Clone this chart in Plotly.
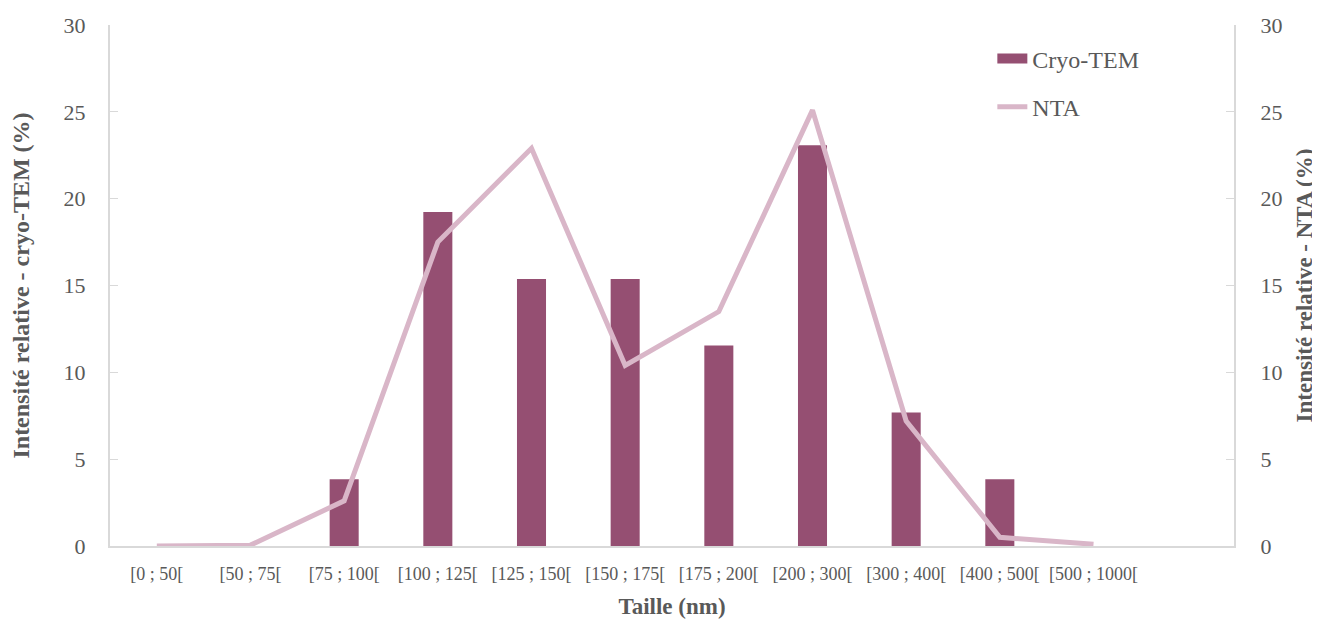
import plotly.graph_objects as go

categories = ["[0 ; 50[", "[50 ; 75[", "[75 ; 100[", "[100 ; 125[", "[125 ; 150[",
              "[150 ; 175[", "[175 ; 200[", "[200 ; 300[", "[300 ; 400[",
              "[400 ; 500[", "[500 ; 1000["]
cryo_tem = [0, 0, 3.85, 19.23, 15.38, 15.38, 11.54, 23.08, 7.69, 3.85, 0]
nta = [0.0, 0.05, 2.6, 17.5, 22.9, 10.4, 13.5, 25.1, 7.2, 0.5, 0.1]
y_ticks = [0, 5, 10, 15, 20, 25, 30]

FONT = "Liberation Serif, DejaVu Serif, serif"
GREY = "#595959"
AXIS = "#D9D9D9"
BAR = "#954F72"
LINE = "#D9B6C8"

fig = go.Figure()
fig.add_trace(go.Bar(x=categories, y=cryo_tem, name="Cryo-TEM",
                     marker=dict(color=BAR, line=dict(width=0)),
                     width=0.31, yaxis="y", showlegend=False))
fig.add_trace(go.Scatter(x=categories, y=nta, name="NTA", mode="lines",
                         line=dict(color=LINE, width=5), yaxis="y2",
                         showlegend=False))
# legend entries (wide rectangle key for bars, like the original)
fig.add_trace(go.Scatter(x=[None], y=[None], name="Cryo-TEM", mode="lines",
                         line=dict(color=BAR, width=15), legendgroup="a"))
fig.add_trace(go.Scatter(x=[None], y=[None], name="NTA", mode="lines",
                         line=dict(color=LINE, width=5), legendgroup="b"))

fig.update_layout(
    width=1312, height=611,
    margin=dict(l=102, r=86, t=17, b=73),
    paper_bgcolor="white", plot_bgcolor="white",
    font=dict(family=FONT, color=GREY),
    showlegend=True,
    legend=dict(x=0.785, y=0.978, xanchor="left", yanchor="top",
                font=dict(size=24, color=GREY, family=FONT),
                traceorder="grouped", tracegroupgap=14,
                bgcolor="rgba(0,0,0,0)"),
    xaxis=dict(type="category", range=[-0.5, 11.5], automargin=False,
               showline=True, linecolor=AXIS, linewidth=2,
               showgrid=False, ticks="", ticklabelstandoff=10,
               tickfont=dict(size=18, color=GREY, family=FONT),
               title=dict(text="<b>Taille (nm)</b>",
                          font=dict(size=23, color=GREY, family=FONT),
                          standoff=15)),
    yaxis=dict(range=[0, 30], tickvals=y_ticks, showgrid=False, automargin=False,
               showline=True, linecolor=AXIS, linewidth=2,
               ticks="inside", ticklen=8, tickcolor=AXIS, tickwidth=1,
               zeroline=False, ticklabelstandoff=18,
               tickfont=dict(size=22, color=GREY, family=FONT),
               title=dict(text="<b>Intensité relative - cryo-TEM (%)</b>",
                          font=dict(size=24, color=GREY, family=FONT), standoff=30)),
    yaxis2=dict(range=[0, 30], tickvals=y_ticks, overlaying="y", side="right",
                showgrid=False, automargin=False,
                showline=True, linecolor=AXIS, linewidth=2,
                ticks="inside", ticklen=8, tickcolor=AXIS, tickwidth=1,
                zeroline=False, ticklabelstandoff=20,
                tickfont=dict(size=22, color=GREY, family=FONT),
                title=dict(text="<b>Intensité relative - NTA (%)</b>",
                           font=dict(size=23, color=GREY, family=FONT), standoff=14)),
    hovermode=False,
)

fig.write_html("out.html")
